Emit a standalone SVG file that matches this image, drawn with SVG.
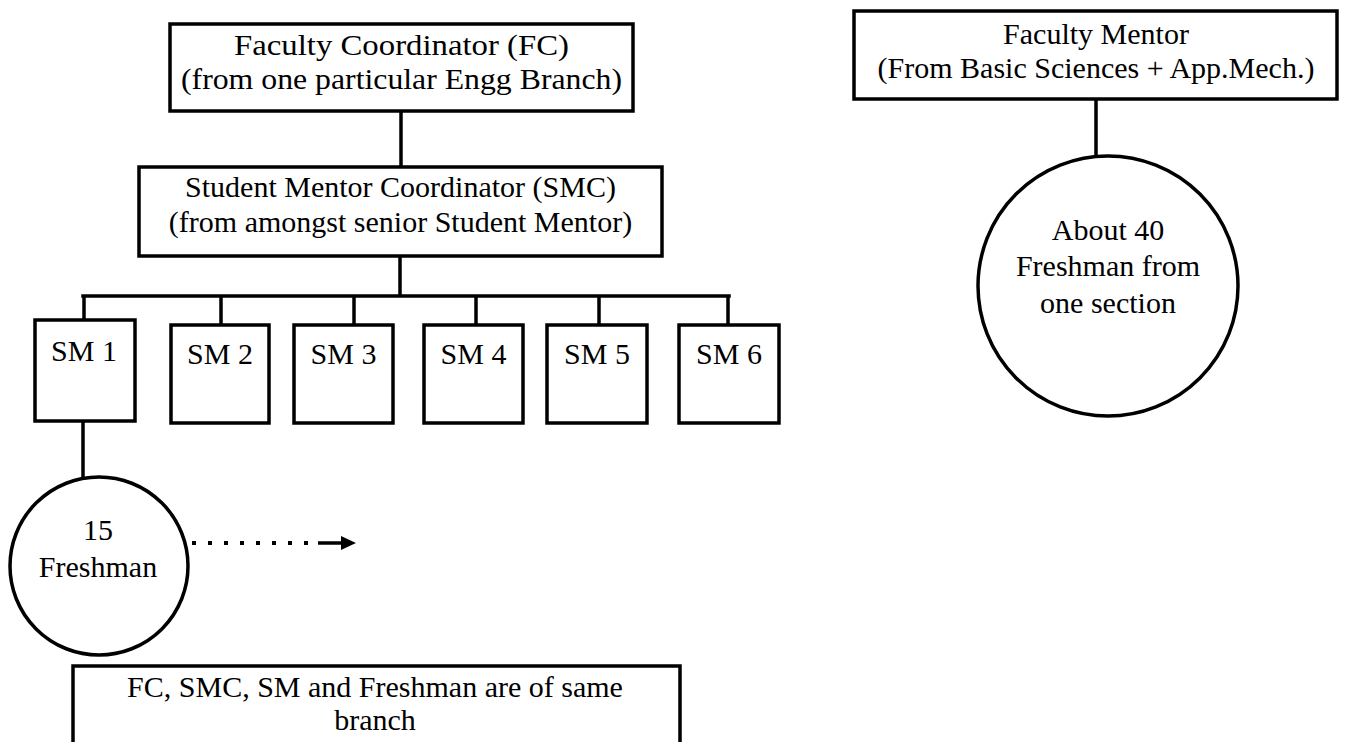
<svg xmlns="http://www.w3.org/2000/svg" width="1345" height="742" viewBox="0 0 1345 742">
<style>
.box{fill:#fff;stroke:#000;stroke-width:3.5}
.circ{fill:#fff;stroke:#000;stroke-width:3.5}
text{font-family:'Liberation Serif','Tinos','Times New Roman','DejaVu Serif',serif;fill:#000;text-anchor:middle}
.t{font-size:30px}
.pal{font-size:30px}
.ln{stroke:#000;stroke-width:3.5;fill:none}
</style>
<rect width="1345" height="742" fill="#fff"/>
<g id="connectors">
<line class="ln" x1="401" y1="111" x2="401" y2="167"/>
<line class="ln" x1="400" y1="256" x2="400" y2="296"/>
<line class="ln" x1="83" y1="296" x2="729" y2="296" stroke-linecap="square"/>
<line class="ln" x1="84" y1="296" x2="84" y2="320"/>
<line class="ln" x1="221" y1="296" x2="221" y2="325"/>
<line class="ln" x1="354" y1="296" x2="354" y2="325"/>
<line class="ln" x1="476" y1="296" x2="476" y2="325"/>
<line class="ln" x1="599" y1="296" x2="599" y2="325"/>
<line class="ln" x1="728" y1="296" x2="728" y2="325"/>
<line class="ln" x1="83" y1="421" x2="83" y2="478"/>
<line class="ln" x1="1096" y1="99" x2="1096" y2="157"/>
<line x1="192" y1="543" x2="312" y2="543" stroke="#000" stroke-width="4" stroke-dasharray="4 12"/>
<line x1="318" y1="543" x2="344" y2="543" stroke="#000" stroke-width="3.5"/>
<polygon points="341,536 356,543 341,550" fill="#000"/>
</g>
<g id="fc">
<rect class="box" x="170" y="24" width="463" height="87"/>
<text class="pal" x="401.5" y="55" textLength="335" lengthAdjust="spacingAndGlyphs">Faculty Coordinator (FC)</text>
<text class="pal" x="401.5" y="89" textLength="441" lengthAdjust="spacingAndGlyphs">(from one particular Engg Branch)</text>
</g>
<g id="smc">
<rect class="box" x="139" y="167" width="523" height="89"/>
<text class="t" x="400.5" y="197">Student Mentor Coordinator (SMC)</text>
<text class="t" x="400.5" y="232">(from amongst senior Student Mentor)</text>
</g>
<g id="sm1">
<rect class="box" x="35" y="320" width="100" height="101"/>
<text class="t" x="84" y="361">SM 1</text>
</g>
<g id="sm2">
<rect class="box" x="171" y="325" width="98" height="98"/>
<text class="t" x="220" y="364">SM 2</text>
</g>
<g id="sm3">
<rect class="box" x="294" y="325" width="99" height="98"/>
<text class="t" x="343.5" y="364">SM 3</text>
</g>
<g id="sm4">
<rect class="box" x="424" y="325" width="99" height="98"/>
<text class="t" x="473.5" y="364">SM 4</text>
</g>
<g id="sm5">
<rect class="box" x="547" y="325" width="100" height="98"/>
<text class="t" x="597" y="364">SM 5</text>
</g>
<g id="sm6">
<rect class="box" x="679" y="325" width="100" height="98"/>
<text class="t" x="729" y="364">SM 6</text>
</g>
<g id="freshman15">
<circle class="circ" cx="99" cy="566" r="89"/>
<text class="t" x="98" y="540">15</text>
<text class="t" x="98" y="577">Freshman</text>
</g>
<g id="note">
<rect class="box" x="73" y="666" width="607" height="100"/>
<text class="t" x="375" y="697">FC, SMC, SM and Freshman are of same</text>
<text class="t" x="375" y="730">branch</text>
</g>
<g id="fm">
<rect class="box" x="854" y="11" width="483" height="88"/>
<text class="t" x="1096" y="44">Faculty Mentor</text>
<text class="t" x="1096" y="78">(From Basic Sciences + App.Mech.)</text>
</g>
<g id="freshman40">
<circle class="circ" cx="1108" cy="286" r="130"/>
<text class="t" x="1108" y="240">About 40</text>
<text class="t" x="1108" y="276">Freshman from</text>
<text class="t" x="1108" y="313">one section</text>
</g>
</svg>
